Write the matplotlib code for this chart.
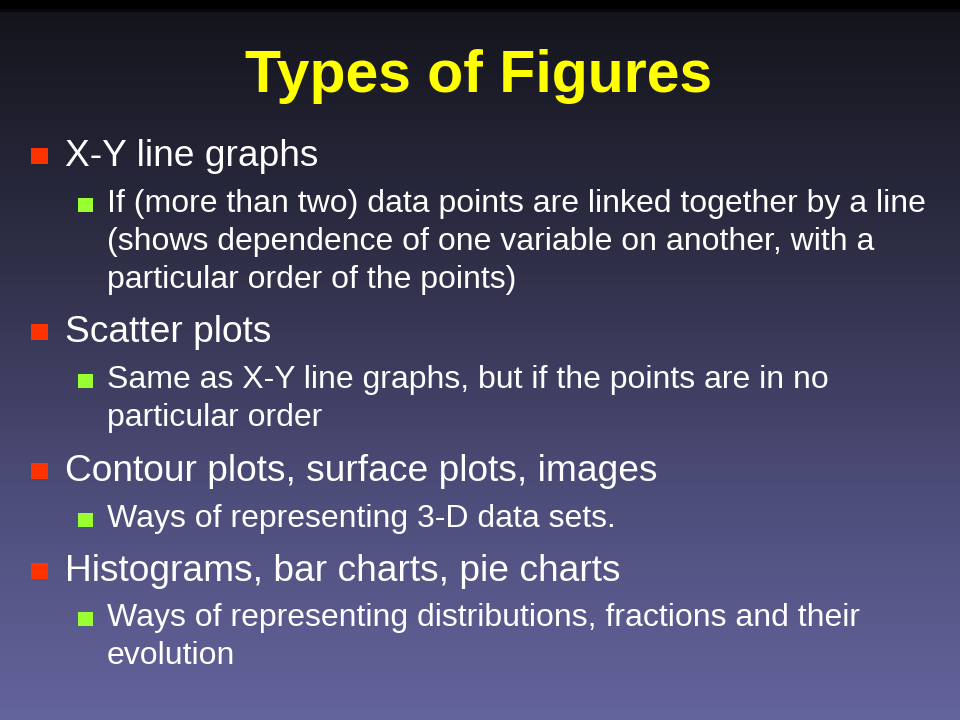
import matplotlib
matplotlib.use("Agg")
import matplotlib.pyplot as plt
import numpy as np
from matplotlib.colors import LinearSegmentedColormap
from matplotlib.patches import Rectangle

title = "Types of Figures"
levels = [1, 2, 2, 2, 1, 2, 2, 1, 2, 1, 2, 2]
lines = [
    "X-Y line graphs",
    "If (more than two) data points are linked together by a line",
    "(shows dependence of one variable on another, with a",
    "particular order of the points)",
    "Scatter plots",
    "Same as X-Y line graphs, but if the points are in no",
    "particular order",
    "Contour plots, surface plots, images",
    "Ways of representing 3-D data sets.",
    "Histograms, bar charts, pie charts",
    "Ways of representing distributions, fractions and their",
    "evolution",
]
has_bullet = [True, True, False, False, True, True, False, True, True, True, True, False]
baselines = [166, 212, 250, 288, 342, 388, 426, 481, 527, 581, 626, 664]

W, H = 960, 720
DPI = 100
fig = plt.figure(figsize=(9.6, 7.2), dpi=DPI)
ax = fig.add_axes([0, 0, 1, 1])
ax.set_xlim(0, W)
ax.set_ylim(H, 0)
ax.axis("off")

cmap = LinearSegmentedColormap.from_list(
    "bg", [(0.0, "#000000"), (0.011, "#000000"), (0.013, "#14141c"),
           (0.35, "#2e2e46"), (0.7, "#4e4e7c"), (1.0, "#64649c")])
grad = np.linspace(0, 1, 720).reshape(-1, 1)
ax.imshow(grad, cmap=cmap, aspect="auto", extent=[0, W, H, 0], zorder=0)

font = "Liberation Sans"
ax.text(W / 2 - 1, 92, title, color="#ffff00", fontsize=42.5, fontweight="bold",
        family=font, ha="center", va="baseline", zorder=2)

for lvl, txt, b, y in zip(levels, lines, has_bullet, baselines):
    if lvl == 1:
        tx, fs, bx, bs, bc, off = 65, 26.75, 31, 16.5, "#ff3300", 2
    else:
        tx, fs, bx, bs, bc, off = 107, 23, 78, 14.5, "#99ff33", 0
    ax.text(tx, y, txt, color="white", fontsize=fs, family=font,
            ha="left", va="baseline", zorder=2)
    if b:
        ax.add_patch(Rectangle((bx, y - off - bs), bs, bs, facecolor=bc,
                               edgecolor="none", zorder=2))

fig.savefig("out.png", dpi=DPI)
